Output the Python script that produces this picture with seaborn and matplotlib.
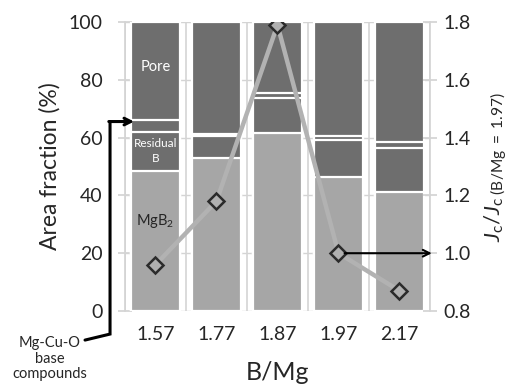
import matplotlib
matplotlib.use("Agg")
import numpy as np
import pandas as pd
import matplotlib.pyplot as plt
import seaborn as sns

# values
ratios = ["1.57", "1.77", "1.87", "1.97", "2.17"]
mgb2 = [48.5, 53.0, 61.6, 46.5, 41.2]
residual_b = [13.6, 7.5, 12.2, 12.7, 15.1]
mg_cu_o = [4.1, 0.6, 1.7, 1.2, 2.3]
jc_ratio = [0.96, 1.18, 1.79, 1.00, 0.87]

pore = [100 - a - b - c for a, b, c in zip(mgb2, residual_b, mg_cu_o)]

df = pd.DataFrame({"B/Mg": ratios, "MgB2": mgb2, "Residual B": residual_b,
                   "Mg-Cu-O": mg_cu_o, "Pore": pore})
layers = ["MgB2", "Residual B", "Mg-Cu-O", "Pore"]
cum = df[layers].cumsum(axis=1)
cum["B/Mg"] = df["B/Mg"]

sns.set_theme(style="white")
plt.rcParams["font.family"] = ["Lato", "DejaVu Sans"]
plt.rcParams["mathtext.fontset"] = "custom"
plt.rcParams["mathtext.rm"] = "Lato"
plt.rcParams["mathtext.it"] = "Lato:italic"

light = "#a6a6a6"
dark = "#6e6e6e"
grid_c = "#d4d4d4"
txt = "#262626"

fig = plt.figure(figsize=(5.12, 3.89), dpi=100)
ax = fig.add_axes([0.2441, 0.2005, 0.5957, 0.7429])

# stacked bars: draw cumulative tops, biggest first
for layer in ["Pore", "Mg-Cu-O", "Residual B", "MgB2"]:
    sns.barplot(data=cum, x="B/Mg", y=layer, color=light if layer == "MgB2" else dark,
                saturation=1, edgecolor="white", linewidth=1.6, width=0.8,
                errorbar=None, ax=ax, zorder=2)

for b in np.arange(-0.5, len(ratios)):
    ax.axvline(b, color=grid_c, lw=1.2, zorder=0)
ax.yaxis.grid(True, color=grid_c, lw=1.0, zorder=0)
ax.set_axisbelow(True)

ax.set_xlim(-0.5, len(ratios) - 0.5)
ax.set_ylim(0, 100)
ax.set_yticks(range(0, 101, 20))
ax.tick_params(axis="y", direction="inout", length=10, color=grid_c,
               labelsize=14, pad=11, labelcolor=txt)
ax.tick_params(axis="x", length=0, labelsize=14, pad=11, labelcolor=txt)
for s in ["top", "bottom", "right"]:
    ax.spines[s].set_visible(False)
ax.spines["left"].set_color(grid_c)
ax.set_ylabel("Area fraction (%)", fontsize=16.5, color=txt)
ax.yaxis.set_label_coords(-0.21, 0.5)
ax.set_xlabel("B/Mg", fontsize=18, color=txt, labelpad=13)

# labels inside the first bar
ax.text(0, 84.3, "Pore", color="white", ha="center", va="center", fontsize=10.5)
ax.text(0, 55.4, "Residual\nB", color="white", ha="center", va="center",
        fontsize=8.5, linespacing=1.5)
ax.text(0, 31, "MgB$_2$", color=txt, ha="center", va="center", fontsize=10.5)

# Jc ratio on the right axis
ax2 = ax.twinx()
sns.pointplot(x=ratios, y=jc_ratio, ax=ax2, color="#b2b2b2", markers="D",
              linestyles="-", errorbar=None, linewidth=3.2, markersize=8.5)
for ln in ax2.lines:
    ln.set_markerfacecolor("#b0b0b0")
    ln.set_markeredgecolor("#2b2b2b")
    ln.set_markeredgewidth(1.8)
ax2.set_xlim(-0.5, len(ratios) - 0.5)
ax2.set_ylim(0.8, 1.8)
ax2.set_yticks(np.arange(0.8, 1.81, 0.2))
ax2.set_yticklabels([f"{v:.1f}" for v in np.arange(0.8, 1.81, 0.2)])
ax2.tick_params(axis="y", direction="inout", length=10, color=grid_c,
                labelsize=14, pad=5, labelcolor=txt)
for s in ["top", "bottom", "left"]:
    ax2.spines[s].set_visible(False)
ax2.spines["right"].set_color(grid_c)
ax2.set_xlabel("")
ax2.set_ylabel(r"$J_\mathrm{c}/J_{\mathrm{c}\ \mathrm{(B/Mg\ =\ 1.97)}}$",
               fontsize=16, color=txt, va="center")
ax2.yaxis.set_label_coords(1.215, 0.5)

# arrow from the 1.97 point to the right axis
ax2.annotate("", xy=(4.53, 1.0), xytext=(3.1, 1.0),
             arrowprops=dict(arrowstyle="->", color="black", lw=1.5,
                             shrinkA=0, shrinkB=0), annotation_clip=False)

# Mg-Cu-O bracket
ax.plot([-0.131, -0.049, -0.049], [-0.1006, -0.0798, 0.6556],
        transform=ax.transAxes, color="black", lw=2.2, clip_on=False,
        solid_joinstyle="miter")
ax.annotate("", xy=(0.03, 0.6556), xytext=(-0.053, 0.6556),
            xycoords="axes fraction", textcoords="axes fraction",
            arrowprops=dict(arrowstyle="->", color="black", lw=2.2,
                            shrinkA=0, shrinkB=0), annotation_clip=False)
ax.text(-0.246, -0.165, "Mg-Cu-O\nbase\ncompounds", transform=ax.transAxes,
        ha="center", va="center", fontsize=10.5, color=txt, linespacing=1.15)

fig.savefig("out.png", dpi=100)
